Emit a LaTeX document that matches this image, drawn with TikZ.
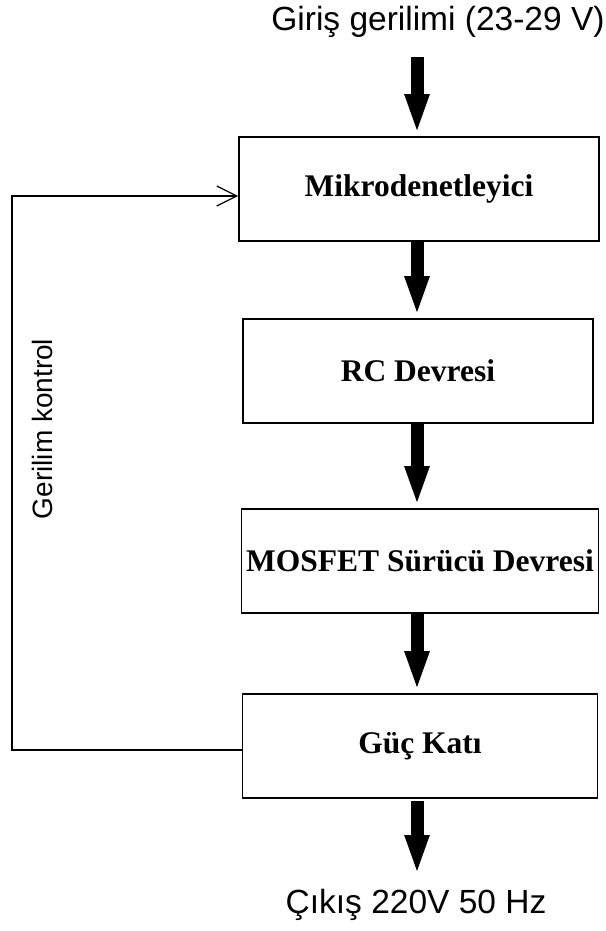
\documentclass[tikz,border=0pt]{standalone}
\usepackage{fontspec}
\setmainfont{Liberation Serif}
\setsansfont{Liberation Sans}
\usetikzlibrary{arrows.meta}

\begin{document}
\begin{tikzpicture}[x=1pt, y=-1pt,
        blok/.style={draw, line width=1.6pt, minimum width=357pt, minimum height=104pt,
            inner sep=0pt, font=\fontsize{31.5}{36}\selectfont\bfseries},
        kalin/.style={line width=13pt, shorten >=2pt, -{Triangle[length=40pt, width=22pt]}},
        yazi/.style={font=\sffamily\fontsize{33.5}{38}\selectfont}]
        \useasboundingbox (0, 0) rectangle (605, 931);
        \node[yazi] (giris) at (438, 22) {Giriş gerilimi (23-29 V)};
        \coordinate (girisUc) at (417, 57);
        \node[blok, minimum width=360pt] (mikro) at (419, 189) {Mikrodenetleyici};
        \node[blok, minimum width=350pt] (rc) at (418, 371) {RC Devresi};
        \node[blok] (mosfet) at (420, 561) {MOSFET Sürücü Devresi};
        \node[blok, minimum width=355pt] (guc) at (420, 746) {Güç Katı};
        \coordinate (cikisUc) at (417, 877);
        \node[yazi] (cikis) at (416, 905) {Çıkış 220V 50 Hz};
        \draw[kalin] (girisUc) -- (mikro.north -| girisUc);
        \draw[kalin] (mikro.south -| girisUc) -- (rc.north -| girisUc);
        \draw[kalin] (rc.south -| girisUc) -- (mosfet.north -| girisUc);
        \draw[kalin] (mosfet.south -| girisUc) -- (guc.north -| girisUc);
        \draw[kalin] ([yshift=-2pt]guc.south -| girisUc) -- (cikisUc);
        % geri besleme
        \coordinate (sol) at (12, 0);
        \draw[line width=1.3pt, -{Straight Barb[length=20pt, width=20pt]}]
            ([yshift=-4pt]guc.west) -- ([yshift=-4pt]guc.west -| sol) |- ([yshift=-7pt]mikro.west);
        \node[yazi, font=\sffamily\fontsize{28}{32}\selectfont, rotate=90] (kontrol) at (42, 429) {Gerilim kontrol};
    \end{tikzpicture}
\end{document}
